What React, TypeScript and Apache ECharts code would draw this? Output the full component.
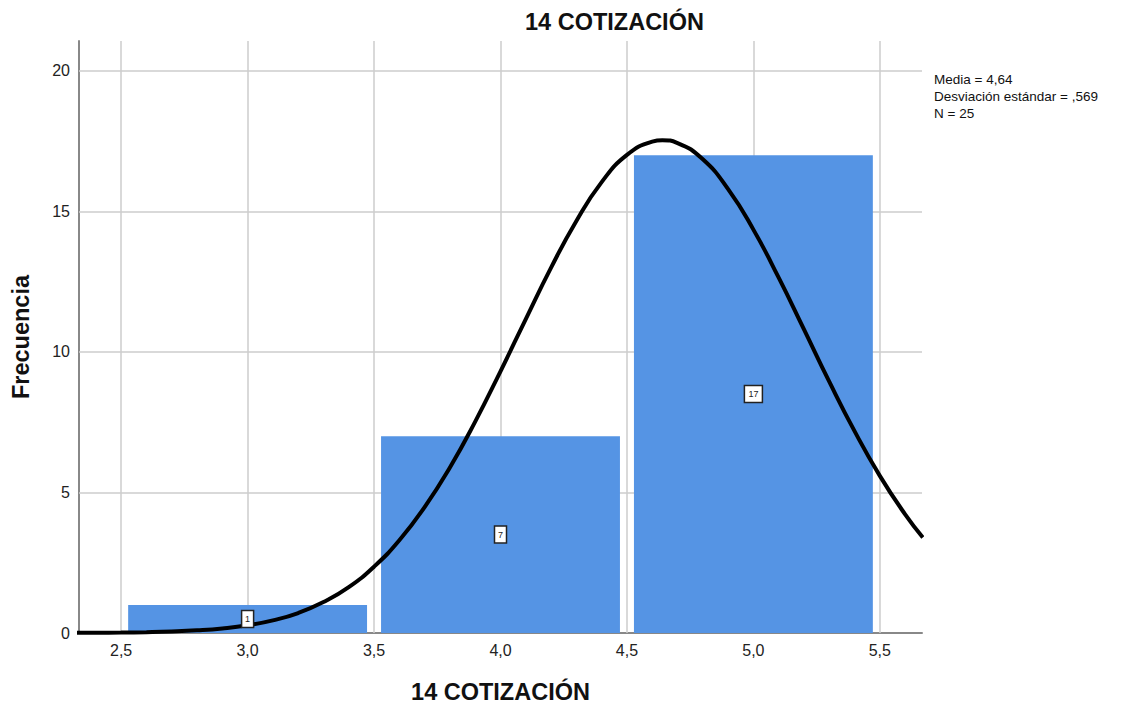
import React, { useEffect, useRef } from "react";
import * as echarts from "echarts";

const chartTitle = "14 COTIZACIÓN";
const xAxisTitle = "14 COTIZACIÓN";
const yAxisTitle = "Frecuencia";
const statsLines = ["Media = 4,64", "Desviación estándar = ,569", "N = 25"];

const binStarts = [2.5, 3.5, 4.5];
const binEnds = [3.5, 4.5, 5.5];
const counts = [1, 7, 17];

const xTicks = [2.5, 3.0, 3.5, 4.0, 4.5, 5.0, 5.5];
const yTicks = [0, 5, 10, 15, 20];

// normal curve points
const curveX = [2.3, 2.4, 2.5, 2.6, 2.7, 2.8, 2.9, 3.0, 3.1, 3.2, 3.3, 3.4, 3.5, 3.6, 3.7, 3.8, 3.9, 4.0, 4.1, 4.2, 4.3, 4.4, 4.5, 4.6, 4.64, 4.7, 4.8, 4.9, 5.0, 5.1, 5.2, 5.3, 5.4, 5.5, 5.6, 5.67];
const curveY = [0.004, 0.008, 0.015, 0.028, 0.052, 0.094, 0.163, 0.275, 0.45, 0.71, 1.1, 1.63, 2.36, 3.3, 4.48, 5.89, 7.52, 9.31, 11.17, 13.0, 14.66, 16.04, 17.01, 17.48, 17.53, 17.43, 16.85, 15.79, 14.35, 12.64, 10.8, 8.94, 7.18, 5.59, 4.22, 3.4];

const X_MIN = 2.5 - 1 / 6;
const X_MAX = 5.5 + 1 / 6;
const Y_MAX = 21.06;

export default function App() {
  const ref = useRef<HTMLDivElement>(null);
  useEffect(() => {
    if (!ref.current) return;
    const chart = echarts.init(ref.current, null, { renderer: "svg" });
    const barData = binStarts.map((s, i) => [s, binEnds[i], counts[i]]);
    const curveData = curveX.map((x, i) => [x, curveY[i]]);
    const font = "Arial, 'Liberation Sans', sans-serif";
    const gridLine = { color: "#cccccc", width: 1.5, type: "solid" };
    chart.setOption({
      animation: false,
      backgroundColor: "#ffffff",
      title: {
        text: chartTitle,
        left: 520,
        top: 5,
        textStyle: { fontFamily: font, fontSize: 23.5, fontWeight: "bold", color: "#111" },
      },
      graphic: [
        {
          type: "text",
          left: 934,
          top: 71,
          style: {
            text: statsLines.join("\n"),
            fontFamily: font,
            fontSize: 13.5,
            lineHeight: 17,
            fill: "#111",
          },
        },
      ],
      grid: { left: 79, right: 222, top: 41, bottom: 74 },
      xAxis: {
        type: "value",
        min: X_MIN,
        max: X_MAX,
        interval: 1 / 6,
        name: xAxisTitle,
        nameLocation: "middle",
        nameGap: 47,
        nameTextStyle: { fontFamily: font, fontSize: 23.5, fontWeight: "bold", color: "#111" },
        axisLine: { show: true, lineStyle: { color: "#888", width: 2 } },
        axisTick: { show: false },
        splitLine: { show: false },
        axisLabel: {
          fontFamily: font,
          fontSize: 16,
          color: "#222",
          margin: 9,
          formatter: (v: number) => {
            const hit = xTicks.find((t) => Math.abs(t - v) < 1e-6);
            return hit === undefined ? "" : hit.toFixed(1).replace(".", ",");
          },
        },
      },
      yAxis: {
        type: "value",
        min: 0,
        max: Y_MAX,
        interval: 5,
        name: yAxisTitle,
        nameLocation: "middle",
        nameGap: 46,
        nameRotate: 90,
        nameTextStyle: { fontFamily: font, fontSize: 23.5, fontWeight: "bold", color: "#111" },
        axisLine: { show: true, lineStyle: { color: "#888", width: 2 } },
        axisTick: { show: false },
        splitLine: { show: false },
        axisLabel: {
          fontFamily: font,
          fontSize: 16,
          color: "#222",
          margin: 9,
          showMaxLabel: false,
          formatter: (v: number) => (yTicks.includes(v) ? String(v) : ""),
        },
      },
      series: [
        {
          type: "line",
          data: [],
          silent: true,
          z: 1,
          markLine: {
            silent: true,
            z: 1,
            symbol: "none",
            label: { show: false },
            lineStyle: gridLine,
            data: [
              ...xTicks.map((t) => ({ xAxis: t })),
              ...yTicks.filter((t) => t > 0).map((t) => ({ yAxis: t })),
            ],
          },
        },
        {
          type: "custom",
          z: 10,
          data: barData,
          renderItem: (params: any, api: any) => {
            const p0 = api.coord([api.value(0), 0]);
            const p1 = api.coord([api.value(1), api.value(2)]);
            return {
              type: "rect",
              shape: { x: p0[0] + 7, y: p1[1], width: p1[0] - p0[0] - 14, height: p0[1] - p1[1] },
              style: { fill: "#5594e4" },
            };
          },
        },
        {
          type: "line",
          z: 11,
          data: curveData,
          smooth: true,
          showSymbol: false,
          lineStyle: { color: "#000", width: 4 },
        },
        {
          type: "custom",
          z: 12,
          data: barData,
          renderItem: (params: any, api: any) => {
            const v = api.value(2);
            const c = api.coord([(api.value(0) + api.value(1)) / 2, v / 2]);
            const txt = String(v);
            const w = txt.length * 6 + 6;
            const h = 17;
            return {
              type: "group",
              children: [
                {
                  type: "rect",
                  shape: { x: c[0] - w / 2, y: c[1] - h / 2, width: w, height: h },
                  style: { fill: "#fff", stroke: "#222", lineWidth: 1.5 },
                },
                {
                  type: "text",
                  style: {
                    text: txt,
                    x: c[0],
                    y: c[1],
                    align: "center",
                    verticalAlign: "middle",
                    fontFamily: font,
                    fontSize: 9,
                    fill: "#222",
                  },
                },
              ],
            };
          },
        },
      ],
    });
    return () => chart.dispose();
  }, []);
  return <div ref={ref} style={{ position: "fixed", left: 0, top: 0, width: 1144, height: 709 }} />;
}
